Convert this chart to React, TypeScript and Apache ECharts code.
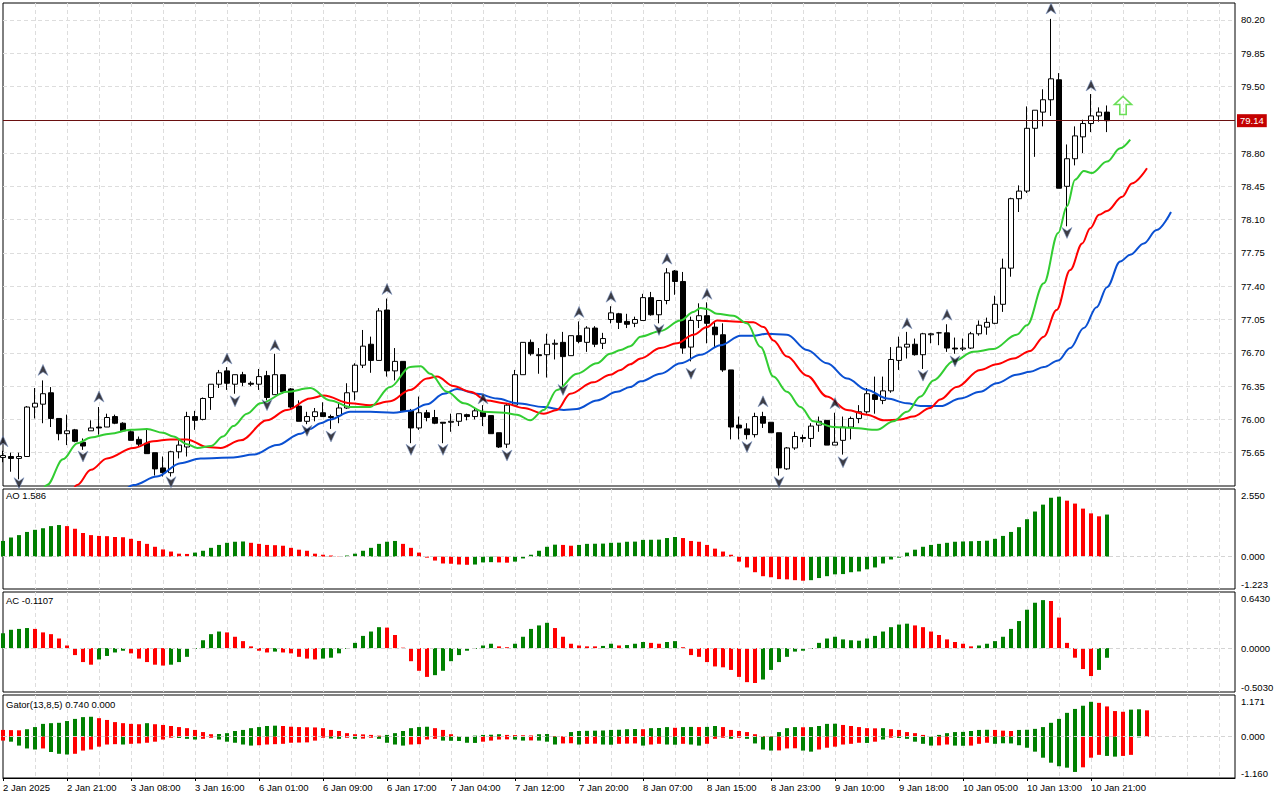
import React, { useEffect, useRef } from "react";
import * as echarts from "echarts";

// ---------- DATA ----------
const timeLabels = [
  "2 Jan 2025", "2 Jan 21:00", "3 Jan 08:00", "3 Jan 16:00", "6 Jan 01:00", "6 Jan 09:00",
  "6 Jan 17:00", "7 Jan 04:00", "7 Jan 12:00", "7 Jan 20:00", "8 Jan 07:00", "8 Jan 15:00",
  "8 Jan 23:00", "9 Jan 10:00", "9 Jan 18:00", "10 Jan 05:00", "10 Jan 13:00", "10 Jan 21:00",
];

const priceLabels = [75.65, 76.0, 76.35, 76.7, 77.05, 77.4, 77.75, 78.1, 78.45, 78.8, 79.5, 79.85, 80.2];
const currentPrice = 79.14;

const opens = [
  75.60, 75.61, 75.59, 75.61, 76.13, 76.16, 76.28, 76.01, 75.85, 75.89,
  75.76, 75.88, 75.92, 75.92, 76.03, 75.96, 75.87, 75.79, 75.75, 75.65,
  75.49, 75.44, 75.66, 75.71, 76.03, 76.00, 76.23, 76.37, 76.51, 76.37,
  76.47, 76.38, 76.37, 76.46, 76.26, 76.47, 76.32, 76.14, 75.98, 76.03,
  76.07, 76.03, 76.04, 76.12, 76.29, 76.57, 76.79, 76.62, 77.15, 76.51,
  76.61, 76.09, 75.91, 76.07, 76.02, 75.97, 75.97, 75.98, 76.05, 76.03,
  76.08, 76.04, 75.86, 75.74, 76.15, 76.47, 76.81, 76.68, 76.68, 76.79,
  76.81, 76.67, 76.88, 76.81, 76.96, 76.80, 77.05, 77.11, 77.03, 77.01,
  77.04, 77.28, 77.10, 77.25, 77.56, 77.45, 76.76, 77.04, 77.09, 76.97,
  76.89, 76.52, 75.94, 75.90, 75.84, 76.03, 75.97, 75.86, 75.48, 75.70,
  75.81, 75.80, 75.94, 75.99, 75.73, 75.78, 75.92, 76.01, 76.08, 76.26,
  76.20, 76.30, 76.62, 76.76, 76.79, 76.68, 76.89, 76.91, 76.91, 76.75,
  76.74, 76.75, 76.90, 76.97, 77.01, 77.21, 77.59, 78.32, 78.40, 79.06,
  79.23, 79.36, 79.57, 78.45, 78.74, 78.97, 79.11, 79.19, 79.23,
];
const highs = [
  75.67, 75.65, 75.65, 76.14, 76.33, 76.41, 76.34, 76.01, 76.05, 75.90,
  75.80, 75.99, 76.13, 76.06, 76.05, 75.97, 75.89, 75.82, 75.89, 75.65,
  75.61, 75.67, 75.78, 76.08, 76.09, 76.23, 76.37, 76.52, 76.55, 76.47,
  76.50, 76.40, 76.53, 76.51, 76.69, 76.47, 76.33, 76.20, 76.08, 76.12,
  76.18, 76.05, 76.17, 76.38, 76.59, 76.94, 76.87, 77.17, 77.27, 76.75,
  76.61, 76.11, 76.24, 76.10, 76.10, 75.97, 76.06, 76.06, 76.06, 76.12,
  76.15, 76.04, 75.86, 76.17, 76.52, 76.81, 76.84, 76.75, 76.90, 76.84,
  76.92, 76.88, 77.03, 76.98, 76.98, 76.91, 77.19, 77.12, 77.11, 77.08,
  77.32, 77.34, 77.25, 77.59, 77.57, 77.55, 77.08, 77.22, 77.23, 77.03,
  77.01, 76.52, 76.03, 75.96, 76.07, 76.08, 75.97, 75.86, 75.71, 75.87,
  75.84, 75.96, 76.03, 75.99, 76.07, 76.03, 76.03, 76.15, 76.33, 76.45,
  76.45, 76.76, 76.87, 76.92, 76.85, 76.91, 76.91, 76.92, 77.00, 76.86,
  76.85, 76.92, 77.04, 77.07, 77.30, 77.69, 78.33, 78.46, 79.29, 79.25,
  79.47, 80.21, 79.64, 78.89, 79.08, 79.15, 79.42, 79.28, 79.30,
];
const lows = [
  75.55, 75.45, 75.37, 75.61, 76.01, 75.96, 75.92, 75.78, 75.73, 75.76,
  75.68, 75.88, 75.84, 75.92, 75.95, 75.87, 75.78, 75.72, 75.64, 75.41,
  75.40, 75.40, 75.59, 75.61, 75.89, 75.99, 76.10, 76.33, 76.31, 76.27,
  76.35, 76.35, 76.31, 76.20, 76.26, 76.27, 76.10, 75.98, 75.95, 75.98,
  76.03, 75.90, 75.96, 76.11, 76.20, 76.54, 76.49, 76.62, 76.45, 76.41,
  76.09, 75.75, 75.89, 75.98, 75.95, 75.75, 75.87, 75.93, 75.99, 76.00,
  75.93, 75.85, 75.70, 75.70, 76.14, 76.47, 76.67, 76.48, 76.44, 76.63,
  76.34, 76.67, 76.80, 76.71, 76.76, 76.74, 77.01, 76.95, 76.96, 76.97,
  77.04, 77.09, 77.01, 77.21, 77.31, 76.69, 76.61, 76.96, 76.80, 76.76,
  76.50, 75.79, 75.79, 75.79, 75.81, 75.91, 75.86, 75.41, 75.47, 75.68,
  75.76, 75.71, 75.87, 75.73, 75.73, 75.63, 75.79, 75.96, 76.06, 76.06,
  76.16, 76.28, 76.52, 76.64, 76.67, 76.53, 76.80, 76.78, 76.71, 76.69,
  76.72, 76.74, 76.88, 76.89, 77.00, 77.13, 77.50, 78.18, 78.38, 78.76,
  79.08, 79.19, 78.43, 78.03, 78.67, 78.80, 79.02, 79.13, 79.02,
];
const closes = [
  75.62, 75.59, 75.61, 76.13, 76.17, 76.27, 76.01, 75.85, 75.88, 75.77,
  75.72, 75.91, 75.91, 76.02, 75.96, 75.88, 75.78, 75.74, 75.64, 75.48,
  75.44, 75.66, 75.73, 76.03, 75.99, 76.22, 76.37, 76.49, 76.38, 76.47,
  76.39, 76.37, 76.45, 76.23, 76.47, 76.29, 76.13, 75.98, 76.03, 76.08,
  76.03, 76.02, 76.12, 76.28, 76.57, 76.77, 76.62, 77.14, 76.51, 76.61,
  76.09, 75.91, 76.07, 76.02, 75.96, 75.96, 75.98, 76.06, 76.03, 76.09,
  76.03, 75.85, 75.71, 76.15, 76.47, 76.81, 76.69, 76.67, 76.79, 76.80,
  76.66, 76.88, 76.82, 76.96, 76.79, 76.85, 77.12, 77.02, 77.00, 77.05,
  77.28, 77.10, 77.25, 77.54, 77.45, 76.75, 77.04, 77.09, 77.01, 76.89,
  76.52, 75.92, 75.91, 75.84, 76.03, 75.96, 75.86, 75.49, 75.70, 75.82,
  75.80, 75.93, 75.98, 75.73, 75.76, 75.92, 76.01, 76.08, 76.27, 76.21,
  76.30, 76.63, 76.76, 76.79, 76.68, 76.90, 76.90, 76.91, 76.75, 76.74,
  76.75, 76.90, 76.99, 77.02, 77.21, 77.59, 78.32, 78.40, 79.06, 79.25,
  79.36, 79.58, 78.43, 78.74, 78.98, 79.11, 79.19, 79.23, 79.14,
];

// Alligator lines: [bar, price]
const jawPts = [
  [12, 75.05], [14, 75.18], [16.3, 75.31], [19.25, 75.40], [22.2, 75.54], [24.7, 75.59], [28.8, 75.60],
  [31.3, 75.63], [34.25, 75.73], [37.2, 75.85], [38.4, 75.90], [39.7, 75.96], [40.9, 76.00], [43.4, 76.08],
  [45.9, 76.08], [48.8, 76.07], [50.9, 76.09], [53, 76.16], [55.1, 76.27], [56.75, 76.32], [59.25, 76.27],
  [61.75, 76.22], [64.25, 76.17], [67.6, 76.13], [70.1, 76.10], [71.75, 76.11], [74.25, 76.20], [76.75, 76.29],
  [78.4, 76.34], [79.7, 76.40], [82.2, 76.48], [84.7, 76.59], [87.2, 76.68], [89.7, 76.78], [92.2, 76.88],
  [93.8, 76.88], [95.5, 76.90], [98, 76.89], [100.5, 76.73], [103, 76.59], [105.5, 76.43], [108, 76.31],
  [110.5, 76.22], [113, 76.17], [114.7, 76.14], [117.2, 76.14], [119.65, 76.22], [122.15, 76.29], [124.2, 76.38],
  [126.7, 76.47], [128.4, 76.50], [130.1, 76.55], [131.9, 76.62], [133.4, 76.75], [135.1, 76.96], [136.7, 77.18],
  [138, 77.39], [139.65, 77.66], [140.9, 77.73], [142.6, 77.85], [144.2, 77.99], [146, 78.18],
];
const teethPts = [
  [6, 74.95], [8, 75.16], [9.25, 75.31], [11, 75.47], [13, 75.59], [16.3, 75.70], [18.8, 75.77], [20.9, 75.79],
  [23, 75.79], [25.5, 75.71], [27.2, 75.70], [29.7, 75.78], [33, 75.99], [35.5, 76.10], [38.4, 76.22],
  [40.1, 76.25], [43.4, 76.17], [45.9, 76.15], [48.4, 76.19], [50.9, 76.31], [53, 76.43], [54.25, 76.45],
  [56.3, 76.35], [58.4, 76.29], [60.5, 76.20], [62.6, 76.17], [65.1, 76.12], [67.6, 76.06], [69.25, 76.10],
  [70.9, 76.27], [73.8, 76.39], [75.9, 76.47], [77.2, 76.52], [78.4, 76.58], [79.7, 76.64], [82.2, 76.75],
  [84.25, 76.80], [86.3, 76.89], [88, 76.97], [89.25, 77.04], [91.3, 77.03], [93.8, 77.02], [95.1, 76.97],
  [96.3, 76.83], [98, 76.66], [100.5, 76.46], [103, 76.24], [105.5, 76.10], [108, 76.05], [110.1, 75.99],
  [112.2, 76.00], [113.8, 76.03], [115.9, 76.12], [117.15, 76.21], [119.2, 76.34], [122.15, 76.52], [124.2, 76.58],
  [126.3, 76.64], [128.4, 76.72], [130.1, 76.87], [131.7, 77.15], [133.4, 77.57], [134.9, 77.85], [135.9, 78.01],
  [137, 78.15], [138, 78.19], [139.9, 78.34], [141.1, 78.48], [143, 78.64],
];
const lipsPts = [
  [2, 74.88], [4, 75.12], [5.5, 75.31], [7.5, 75.58], [9.3, 75.75], [11, 75.81], [13.4, 75.85], [16, 75.89],
  [18, 75.90], [20, 75.86], [21.3, 75.82], [23, 75.74], [24.3, 75.70], [26, 75.72], [27.5, 75.82], [28.8, 75.93],
  [30.5, 76.06], [32.2, 76.17], [35.5, 76.29], [38.4, 76.33], [40.9, 76.20], [43.4, 76.13], [45.9, 76.13],
  [48.4, 76.34], [50.9, 76.55], [52.2, 76.56], [53.4, 76.48], [55.5, 76.29], [57.6, 76.17], [60.1, 76.08],
  [62.6, 76.07], [64.25, 76.05], [65.9, 75.99], [67.6, 76.10], [69.25, 76.31], [71.75, 76.48], [74.25, 76.59],
  [75.9, 76.69], [77.2, 76.73], [78.4, 76.77], [79.7, 76.87], [82.2, 76.93], [84.7, 77.04], [86.3, 77.13],
  [87.2, 77.17], [88, 77.16], [89.25, 77.11], [91.3, 77.09], [93, 77.01], [94.7, 76.76], [96.3, 76.45],
  [98, 76.29], [99.7, 76.13], [101.3, 75.98], [103.8, 75.92], [106.3, 75.91], [109.25, 75.89], [111.3, 75.98],
  [113, 76.08], [114.7, 76.24], [116.3, 76.41], [118.8, 76.61], [121.3, 76.71], [123.8, 76.74], [126.7, 76.89],
  [128, 76.99], [130.1, 77.43], [131.9, 77.96], [133, 78.24], [134, 78.52], [135.1, 78.61], [136.1, 78.59],
  [138, 78.71], [139.65, 78.85], [140.9, 78.94],
];

// Fractal marks: [bar, price of the arrow]
const fractalsUp = [
  [0, 75.77], [5, 76.52], [12, 76.24], [28, 76.64], [34, 76.78], [48, 77.37], [60, 76.22], [72, 77.13],
  [76, 77.29], [83, 77.69], [88, 77.32], [95, 76.19], [104, 76.17], [113, 77.01], [118, 77.10], [131, 80.32],
  [136, 79.51],
];
const fractalsDown = [
  [2, 75.33], [10, 75.61], [21, 75.34], [29, 76.19], [33, 76.15], [38, 75.88], [41, 75.82], [51, 75.68],
  [55, 75.68], [63, 75.62], [70, 76.31], [82, 76.94], [86, 76.48], [93, 75.71], [97, 75.34], [105, 75.55],
  [115, 76.46], [119, 76.61], [133, 77.96],
];
const signalArrow = [140, 79.3];

// Awesome Oscillator
const aoValues = [
  0.59, 0.72, 0.81, 0.93, 1.01, 1.07, 1.15, 1.19, 1.15, 1.05, 0.89, 0.81, 0.78, 0.77, 0.74, 0.73, 0.67, 0.59,
  0.48, 0.37, 0.27, 0.19, 0.11, 0.10, 0.15, 0.22, 0.33, 0.44, 0.52, 0.56, 0.57, 0.52, 0.48, 0.44, 0.43, 0.41,
  0.33, 0.26, 0.22, 0.11, 0.07, 0.04, 0.01, 0.04, 0.11, 0.22, 0.33, 0.48, 0.56, 0.59, 0.48, 0.33, 0.15, -0.04,
  -0.15, -0.26, -0.27, -0.30, -0.31, -0.30, -0.22, -0.21, -0.22, -0.23, -0.19, -0.07, 0.07, 0.22, 0.37, 0.45,
  0.44, 0.41, 0.44, 0.48, 0.485, 0.49, 0.52, 0.525, 0.56, 0.565, 0.63, 0.635, 0.64, 0.70, 0.74, 0.70, 0.59,
  0.56, 0.44, 0.30, 0.19, 0.07, -0.19, -0.41, -0.59, -0.74, -0.78, -0.85, -0.86, -0.89, -0.91, -0.89, -0.81,
  -0.74, -0.67, -0.66, -0.59, -0.56, -0.48, -0.41, -0.26, -0.11, -0.04, 0.15, 0.26, 0.37, 0.44, 0.48, 0.52,
  0.56, 0.57, 0.58, 0.59, 0.60, 0.67, 0.78, 0.93, 1.11, 1.41, 1.70, 1.96, 2.22, 2.26, 2.11, 2.00, 1.81, 1.63,
  1.52, 1.586,
];
const aoColorRuns: [string, number][] = [
  ["g", 8], ["r", 16], ["g", 7], ["r", 12], ["g", 7], ["r", 9], ["g", 3], ["r", 2], ["g", 6],
  ["r", 2], ["g", 13], ["r", 16], ["g", 32], ["r", 5], ["g", 1],
];

// Accelerator Oscillator
const acValues = [
  0.17, 0.21, 0.22, 0.23, 0.22, 0.18, 0.16, 0.11, 0.03, -0.08, -0.16, -0.19, -0.13, -0.09, -0.05, -0.03,
  -0.06, -0.12, -0.16, -0.19, -0.20, -0.19, -0.16, -0.10, -0.01, 0.09, 0.16, 0.19, 0.18, 0.13, 0.08, 0.02,
  -0.03, -0.05, -0.04, -0.05, -0.06, -0.10, -0.12, -0.13, -0.12, -0.11, -0.06, -0.01, 0.06, 0.14, 0.19, 0.24,
  0.235, 0.15, 0.005, -0.15, -0.26, -0.33, -0.31, -0.26, -0.15, -0.08, -0.03, -0.01, 0.03, 0.05, 0.02, 0.01,
  0.05, 0.13, 0.22, 0.26, 0.29, 0.23,
  0.13, 0.05, 0.03, 0.02, 0.02, 0.025, 0.05, 0.03, 0.035, 0.05, 0.07, 0.06, 0.05, 0.07, 0.08, 0.01, -0.08,
  -0.10, -0.16, -0.21, -0.22, -0.25, -0.33, -0.39, -0.40, -0.36, -0.25, -0.16, -0.10, -0.04, -0.03, -0.01,
  0.06, 0.11, 0.13, 0.10, 0.09, 0.085, 0.11, 0.14, 0.19, 0.24, 0.27, 0.28, 0.26, 0.24, 0.19, 0.15, 0.10, 0.07,
  0.05, 0.02, 0.03, 0.05, 0.08, 0.13, 0.22, 0.31, 0.44, 0.52, 0.55, 0.54, 0.35, 0.06, -0.11, -0.24, -0.32,
  -0.25, -0.1107,
];
const acColorRuns: [string, number][] = [
  ["g", 4], ["r", 8], ["g", 4], ["r", 5], ["g", 7], ["r", 6], ["g", 1], ["r", 5], ["g", 8], ["r", 6],
  ["g", 8], ["r", 2], ["g", 5], ["r", 1],
  ["r", 5], ["g", 2], ["r", 1], ["g", 3], ["r", 2], ["g", 2], ["r", 10], ["g", 19], ["r", 8], ["g", 9],
  ["r", 6], ["g", 2],
];

// Gator oscillator (upper = jaw-teeth, lower = teeth-lips)
const gatorUp = [
  0.19, 0.185, 0.18, 0.21, 0.27, 0.36, 0.38, 0.39, 0.44, 0.50, 0.55, 0.56, 0.52, 0.47, 0.41, 0.38, 0.36, 0.35,
  0.38, 0.35, 0.33, 0.30, 0.27, 0.24, 0.19, 0.13, 0.07, 0.075, 0.10, 0.16, 0.19, 0.24, 0.27, 0.30, 0.31, 0.30,
  0.28, 0.27, 0.265, 0.26, 0.24, 0.19, 0.16, 0.10, 0.07, 0.065, 0.05, 0.03, 0.05, 0.10, 0.16, 0.24, 0.27, 0.28,
  0.24, 0.19, 0.07, 0.01, 0.02, 0.03, 0.05, 0.055, 0.07, 0.05, 0.045, 0.04, 0.035, 0.07, 0.075, 0.02,
  0.015, 0.13, 0.16, 0.165, 0.17, 0.175, 0.19, 0.195, 0.21, 0.215, 0.21, 0.24, 0.245, 0.27, 0.25, 0.27, 0.275,
  0.27, 0.275, 0.30, 0.27, 0.19, 0.16, 0.13, 0.07, 0.02, 0.015, 0.13, 0.24, 0.27, 0.265, 0.27, 0.30, 0.36,
  0.365, 0.33, 0.30, 0.27, 0.24, 0.235, 0.24, 0.21, 0.19, 0.13, 0.10, 0.05, 0.005, 0.05, 0.10, 0.13, 0.135,
  0.16, 0.19, 0.195, 0.19,
  0.17, 0.16, 0.19, 0.195, 0.22, 0.27, 0.39, 0.50, 0.67, 0.78, 0.87, 0.98, 0.95, 0.85, 0.72, 0.70, 0.76, 0.77,
  0.74,
];
const gatorUpColorRuns: [string, number][] = [
  ["r", 3], ["g", 9], ["r", 6], ["g", 1], ["r", 8], ["g", 8], ["r", 13], ["g", 6], ["r", 4], ["g", 5],
  ["r", 4], ["g", 2], ["r", 2], ["g", 9], ["r", 1], ["g", 3], ["r", 1], ["g", 2], ["r", 1], ["g", 2],
  ["r", 7], ["g", 3], ["r", 1], ["g", 4], ["r", 5], ["g", 1], ["r", 6], ["g", 7], ["r", 3], ["g", 10],
  ["r", 4], ["g", 2], ["r", 1],
];
const gatorDown = [
  -0.11, -0.14, -0.25, -0.33, -0.36, -0.33, -0.43, -0.48, -0.50, -0.48, -0.39, -0.36, -0.28, -0.22, -0.21,
  -0.22, -0.20, -0.19, -0.17, -0.14, -0.08, -0.03, -0.035, -0.06, -0.08, -0.06, -0.03, -0.08, -0.14, -0.17,
  -0.22, -0.25, -0.24, -0.22, -0.21, -0.20, -0.17, -0.165, -0.16, -0.11, -0.03, -0.05, -0.06, -0.03, -0.06,
  -0.055, -0.03, -0.06, -0.17, -0.22, -0.25, -0.22, -0.21, -0.08, -0.06, -0.11, -0.115, -0.12, -0.17, -0.175,
  -0.14, -0.11, -0.08, -0.075, -0.08, -0.11, -0.105, -0.11, -0.14, -0.22,
  -0.19, -0.185, -0.22, -0.20, -0.195, -0.22, -0.225, -0.20, -0.195, -0.19, -0.25, -0.22, -0.20, -0.22,
  -0.225, -0.20, -0.22, -0.25, -0.20, -0.06, -0.03, -0.06, -0.03, -0.06, -0.19, -0.36, -0.39, -0.385, -0.33,
  -0.325, -0.39, -0.42, -0.36, -0.31, -0.28, -0.22, -0.20, -0.17, -0.175, -0.14, -0.08, -0.03, -0.035, -0.06,
  -0.14, -0.20, -0.25, -0.245, -0.22, -0.25, -0.255, -0.25, -0.20, -0.17, -0.20,
  -0.185, -0.19, -0.24, -0.31, -0.42, -0.59, -0.73, -0.83, -0.87, -0.99, -0.86, -0.59, -0.51, -0.54, -0.56,
  -0.54, -0.51, -0.02, 0,
];
const gatorDownColorRuns: [string, number][] = [
  ["r", 1], ["g", 4], ["r", 1], ["g", 3], ["r", 6], ["g", 1], ["r", 6], ["g", 3], ["r", 2], ["g", 5],
  ["r", 9], ["g", 2], ["r", 1], ["g", 1], ["r", 2], ["g", 4], ["r", 4], ["g", 5], ["r", 4], ["g", 2],
  ["r", 1], ["g", 3],
  ["r", 2], ["g", 1], ["r", 2], ["g", 2], ["r", 3], ["g", 1], ["r", 2], ["g", 2], ["r", 1], ["g", 2],
  ["r", 3], ["g", 1], ["r", 1], ["g", 4], ["r", 3], ["g", 2], ["r", 6], ["g", 1], ["r", 1], ["g", 1],
  ["r", 1], ["g", 5], ["r", 2], ["g", 2], ["r", 3], ["g", 1],
  ["g", 10], ["r", 3], ["g", 2], ["r", 2], ["g", 2],
];

// Indicator window ranges (axis labels)
const aoRange = [-1.223, 2.55];
const acRange = [-0.503, 0.643];
const gatorRange = [-1.16, 1.171];
const mainRange = [75.3, 80.377];

// ---------- STYLE ----------
const FONT = "'Liberation Sans', Arial, sans-serif";
const FS = 9.5;
const GREEN = "#008000";
const RED = "#ff0000";
const GRID_COLOR = "#dddddd";
const N_SLOTS = 155;

function expandRuns(runs: [string, number][]) {
  const out: string[] = [];
  runs.forEach(([c, n]) => {
    for (let i = 0; i < n; i++) out.push(c);
  });
  return out;
}

const UP_FRACTAL = "path://M5,0 L10,11 L5,7.5 L0,11 Z";
const DOWN_FRACTAL = "path://M0,0 L5,3.5 L10,0 L5,11 Z";
const BLOCK_ARROW = "path://M8,0 L16,8 L11,8 L11,18 L5,18 L5,8 L0,8 Z";

function buildOption() {
  const slots = Array.from({ length: N_SLOTS }, (_, i) => String(i));
  const aoColors = expandRuns(aoColorRuns);
  const acColors = expandRuns(acColorRuns);
  const guColors = expandRuns(gatorUpColorRuns);
  const gdColors = expandRuns(gatorDownColorRuns);
  const col = (c: string) => (c === "g" ? GREEN : RED);

  const labelInterval = (i: number) => i % 8 === 0 && i / 8 < timeLabels.length;
  const vSplit = {
    show: true,
    interval: (i: number) => i % 4 === 0 && i > 0,
    lineStyle: { color: GRID_COLOR, type: [4, 3], width: 1 },
  };

  const gridBase = {
    show: true,
    borderColor: "#000",
    borderWidth: 1,
    backgroundColor: "#fff",
    containLabel: false,
    outerBoundsMode: "none",
  };
  const grid = [
    { ...gridBase, left: 3, top: 3, width: 1232, height: 483 },
    { ...gridBase, left: 3, top: 489, width: 1232, height: 100 },
    { ...gridBase, left: 3, top: 592, width: 1232, height: 100 },
    { ...gridBase, left: 3, top: 695, width: 1232, height: 83 },
  ];

  const cat = (gridIndex: number, withLabels: boolean) => ({
    type: "category",
    gridIndex,
    data: slots,
    boundaryGap: false,
    axisLine: { show: withLabels, onZero: false, lineStyle: { color: "#000" } },
    axisTick: withLabels
      ? { show: true, interval: labelInterval, length: 3, lineStyle: { color: "#000" } }
      : { show: false },
    axisLabel: withLabels
      ? {
          show: true,
          interval: labelInterval,
          hideOverlap: false,
          align: "left",
          margin: 4,
          color: "#000",
          fontSize: FS,
          fontFamily: FONT,
          formatter: (v: string) => timeLabels[Number(v) / 8] || "",
        }
      : { show: false },
    splitLine: vSplit,
  });

  const richFont = { fontSize: FS, fontFamily: FONT, color: "#000" };
  const indY = (gridIndex: number, range: number[], digits: number) => ({
    type: "value",
    gridIndex,
    position: "right",
    min: range[0],
    max: range[1],
    splitLine: { show: false },
    axisLine: { show: false },
    axisTick: { show: false },
    axisLabel: {
      show: true,
      customValues: [range[0], 0, range[1]],
      margin: 6,
      ...richFont,
      formatter: (v: number) => {
        const s = v.toFixed(digits);
        if (Math.abs(v - range[1]) < 1e-9) return `{t|${s}}`;
        if (Math.abs(v - range[0]) < 1e-9) return `{b|${s}}`;
        return `{m|${s}}`;
      },
      rich: {
        t: { ...richFont, padding: [13, 0, 0, 0] },
        b: { ...richFont, padding: [0, 0, 9, 0] },
        m: { ...richFont },
      },
    },
  });

  const zeroLine = {
    silent: true,
    symbol: ["none", "none"],
    label: { show: false },
    animation: false,
    lineStyle: { color: "#d4d4d4", type: [4, 3], width: 1 },
    data: [{ yAxis: 0 }],
  };

  const priceGrid = {
    silent: true,
    z: 1,
    symbol: ["none", "none"],
    label: { show: false },
    animation: false,
    lineStyle: { color: GRID_COLOR, type: [4, 3], width: 1 },
    data: priceLabels.map((v) => ({ yAxis: v })),
  };

  const lineSeries = (data: number[][], color: string, extra: any = {}) => ({
    type: "line",
    xAxisIndex: 1,
    yAxisIndex: 0,
    data,
    smooth: 0.35,
    smoothMonotone: "x",
    symbol: "none",
    showSymbol: false,
    clip: true,
    lineStyle: { color, width: 2 },
    z: 3,
    silent: true,
    ...extra,
  });

  const barData = (vals: number[], colors: string[]) =>
    vals.map((v, i) => ({ value: v, itemStyle: { color: col(colors[i]) } }));

  const last = (a: number[]) => a[a.length - 1];
  const titleStyle = { fontSize: FS, fontWeight: "normal", fontFamily: FONT, color: "#000" };
  const fractalStyle = { color: "#0d0d16", borderColor: "#7f98c8", borderWidth: 0.7 };

  return {
    animation: false,
    backgroundColor: "#fff",
    title: [
      { text: `AO ${last(aoValues).toFixed(3)}`, left: 6, top: 490, padding: 0, textStyle: titleStyle },
      { text: `AC ${last(acValues).toFixed(4)}`, left: 6, top: 595, padding: 0, textStyle: titleStyle },
      {
        text: `Gator(13,8,5) ${last(gatorUp).toFixed(3)} ${Math.abs(last(gatorDown)).toFixed(3)}`,
        left: 6,
        top: 699,
        padding: 0,
        textStyle: titleStyle,
      },
    ],
    grid,
    xAxis: [
      cat(0, false),
      { type: "value", gridIndex: 0, min: 0, max: N_SLOTS - 1, show: false },
      cat(1, false),
      cat(2, false),
      cat(3, true),
    ],
    yAxis: [
      {
        type: "value",
        gridIndex: 0,
        position: "right",
        min: mainRange[0],
        max: mainRange[1],
        interval: 0.35,
        axisLine: { show: false },
        axisTick: { show: true, length: 3, customValues: priceLabels, lineStyle: { color: "#000" } },
        axisLabel: {
          show: true,
          customValues: priceLabels,
          margin: 6,
          color: "#000",
          fontSize: FS,
          fontFamily: FONT,
          formatter: (v: number) => v.toFixed(2),
        },
        splitLine: { show: false },
      },
      indY(1, aoRange, 3),
      indY(2, acRange, 4),
      indY(3, gatorRange, 3),
    ],
    series: [
      {
        type: "candlestick",
        xAxisIndex: 0,
        yAxisIndex: 0,
        data: opens.map((o, i) => [o, closes[i], lows[i], highs[i]]),
        barWidth: 5,
        clip: true,
        silent: true,
        z: 2,
        itemStyle: {
          color: "#ffffff",
          color0: "#000000",
          borderColor: "#000000",
          borderColor0: "#000000",
          borderColorDoji: "#000000",
          borderWidth: 1,
        },
        markLine: {
          silent: true,
          symbol: ["none", "none"],
          animation: false,
          data: [{ yAxis: currentPrice }],
          lineStyle: { color: "#6a1010", width: 1, type: "solid" },
          label: {
            show: true,
            position: "end",
            distance: 2,
            formatter: currentPrice.toFixed(2),
            backgroundColor: "#c40000",
            color: "#fff",
            padding: [2, 3, 1, 3],
            fontSize: FS,
            fontFamily: FONT,
          },
        },
      },
      lineSeries(jawPts, "#0a50d2", { markLine: priceGrid }),
      lineSeries(teethPts, "#ff0000"),
      lineSeries(lipsPts, "#32cd32"),
      {
        type: "scatter",
        xAxisIndex: 0,
        yAxisIndex: 0,
        data: fractalsUp,
        symbol: UP_FRACTAL,
        symbolSize: [10, 11],
        itemStyle: fractalStyle,
        z: 5,
        silent: true,
      },
      {
        type: "scatter",
        xAxisIndex: 0,
        yAxisIndex: 0,
        data: fractalsDown,
        symbol: DOWN_FRACTAL,
        symbolSize: [10, 11],
        itemStyle: fractalStyle,
        z: 5,
        silent: true,
      },
      {
        type: "scatter",
        xAxisIndex: 0,
        yAxisIndex: 0,
        data: [signalArrow],
        symbol: BLOCK_ARROW,
        symbolSize: [17, 18],
        itemStyle: { color: "rgba(255,255,255,0)", borderColor: "#44d62c", borderWidth: 1.6 },
        z: 5,
        silent: true,
      },
      {
        type: "bar",
        xAxisIndex: 2,
        yAxisIndex: 1,
        data: barData(aoValues, aoColors),
        barWidth: 4,
        silent: true,
        markLine: zeroLine,
      },
      {
        type: "bar",
        xAxisIndex: 3,
        yAxisIndex: 2,
        data: barData(acValues, acColors),
        barWidth: 4,
        silent: true,
        markLine: zeroLine,
      },
      {
        type: "bar",
        xAxisIndex: 4,
        yAxisIndex: 3,
        data: barData(gatorUp, guColors),
        barWidth: 4,
        barGap: "-100%",
        silent: true,
      },
      {
        type: "bar",
        xAxisIndex: 4,
        yAxisIndex: 3,
        data: barData(gatorDown, gdColors),
        barWidth: 4,
        barGap: "-100%",
        silent: true,
        markLine: zeroLine,
      },
    ],
  };
}

export default function App() {
  const ref = useRef<HTMLDivElement>(null);
  useEffect(() => {
    if (!ref.current) return;
    const chart = echarts.init(ref.current, null, { renderer: "svg" });
    chart.setOption(buildOption() as any);
    return () => chart.dispose();
  }, []);
  return (
    <div
      ref={ref}
      style={{ position: "absolute", left: 0, top: 0, width: 1280, height: 800, background: "#fff" }}
    />
  );
}
